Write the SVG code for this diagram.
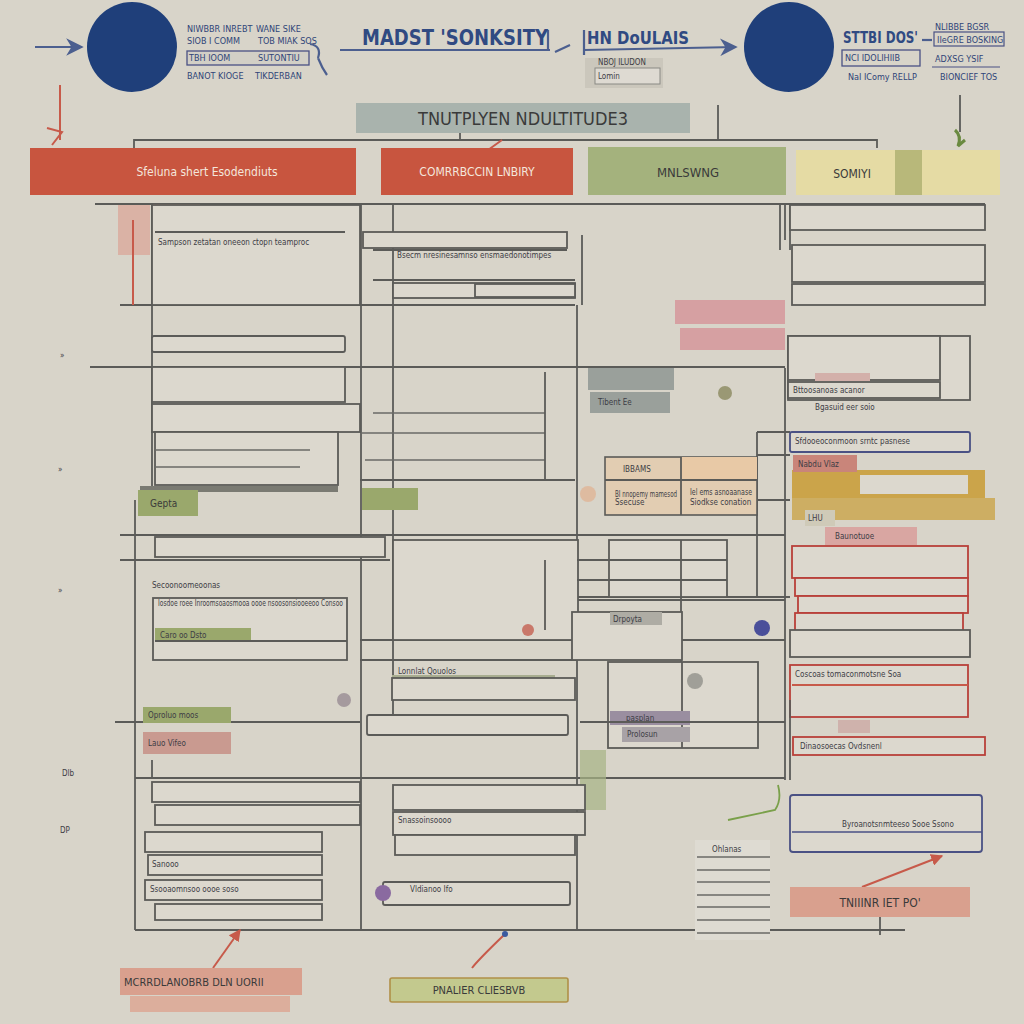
<svg xmlns="http://www.w3.org/2000/svg" width="1024" height="1024" viewBox="0 0 1024 1024">
<defs>
<style>
.bg{fill:#d8d4c9}
.ln{stroke:#5b5b58;stroke-width:1.8;fill:none}
.lnt{stroke:#6a6a66;stroke-width:1.3;fill:none}
.bx{fill:#dcd8ce;stroke:#5b5b58;stroke-width:1.8}
.bxr{fill:#dcd8ce;stroke:#b8413a;stroke-width:1.8}
.bxn{fill:#dcd8ce;stroke:#4a5184;stroke-width:1.8}
.t{font-family:"DejaVu Sans Condensed","Liberation Sans",sans-serif;fill:#3a3a3a}
.ts{font-family:"DejaVu Sans Condensed","Liberation Sans",sans-serif;fill:#3d3d45;font-size:8px}
.tn{font-family:"DejaVu Sans Condensed","Liberation Sans",sans-serif;fill:#2f4478;font-size:9px}
.th{font-family:"DejaVu Sans Condensed","Liberation Sans",sans-serif;fill:#304a82;font-weight:bold}
.tw{font-family:"DejaVu Sans Condensed","Liberation Sans",sans-serif;fill:#f4e6dc;font-size:12px}
.red{stroke:#c75a4a;stroke-width:2;fill:none}
.navyl{stroke:#4c5f8f;stroke-width:2.2;fill:none}
</style>
<marker id="ah" viewBox="0 0 10 10" refX="9" refY="5" markerWidth="8" markerHeight="8" orient="auto"><path d="M0,0 L10,5 L0,10 L3,5 z" fill="#4c5f8f"/></marker>
<marker id="ahr" viewBox="0 0 10 10" refX="9" refY="5" markerWidth="6" markerHeight="6" orient="auto"><path d="M0,0 L10,5 L0,10 z" fill="#c75a4a"/></marker>
</defs>
<rect class="bg" x="0" y="0" width="1024" height="1024"/>

<g id="connectors">
<line class="navyl" x1="35" y1="47" x2="82" y2="47" marker-end="url(#ah)"/>
<path class="navyl" d="M310,44 Q322,46 318,58 M318,58 Q322,68 327,75" stroke-width="1.6"/>
<line class="navyl" x1="340" y1="50" x2="550" y2="50"/>
<line class="navyl" x1="548" y1="30" x2="548" y2="50" stroke-width="1.6"/>
<path class="navyl" d="M555,52 L570,45" stroke="#8a8a8a"/>
<line class="navyl" x1="584" y1="50" x2="736" y2="47" marker-end="url(#ah)"/>
<line class="navyl" x1="584" y1="30" x2="584" y2="55" stroke-width="1.6"/>
<line class="navyl" x1="922" y1="40" x2="932" y2="40" stroke-width="1.5"/>
<line class="red" x1="60" y1="85" x2="60" y2="140"/>
<path class="red" d="M47,128 L62,132 L52,145"/>
<line class="ln" x1="960" y1="95" x2="960" y2="132"/>
<path d="M955,130 Q962,136 958,146 L965,140" stroke="#6a8a40" stroke-width="3" fill="none"/>
<path class="ln" d="M134,148 L134,140 L877,140 L877,148"/>
<line class="ln" x1="718" y1="105" x2="718" y2="140"/>
<line class="ln" x1="460" y1="133" x2="460" y2="140"/>
<line class="red" x1="502" y1="140" x2="488" y2="150"/>
<line class="ln" x1="95" y1="204" x2="985" y2="204"/>
<line class="ln" x1="152" y1="204" x2="152" y2="490"/>
<line class="ln" x1="361" y1="204" x2="361" y2="930"/>
<line class="ln" x1="393" y1="204" x2="393" y2="720"/>
<line class="ln" x1="577" y1="305" x2="577" y2="930"/>
<line class="ln" x1="785" y1="204" x2="785" y2="240"/>
<line class="ln" x1="785" y1="368" x2="785" y2="780"/>
<line class="ln" x1="120" y1="305" x2="360" y2="305"/>
<line class="ln" x1="360" y1="305" x2="575" y2="305"/>
<line class="ln" x1="90" y1="367" x2="785" y2="367"/>
<line class="ln" x1="582" y1="235" x2="582" y2="305"/>
<line class="lnt" x1="373" y1="413" x2="545" y2="413"/>
<line class="lnt" x1="360" y1="433" x2="545" y2="433"/>
<line class="lnt" x1="365" y1="460" x2="545" y2="460"/>
<line class="ln" x1="545" y1="372" x2="545" y2="480"/>
<line class="ln" x1="360" y1="480" x2="575" y2="480"/>
<line class="ln" x1="120" y1="535" x2="785" y2="535"/>
<line class="ln" x1="120" y1="560" x2="390" y2="560"/>
<line class="ln" x1="135" y1="500" x2="135" y2="930"/>
<line class="ln" x1="135" y1="778" x2="785" y2="778"/>
<line class="ln" x1="135" y1="930" x2="905" y2="930"/>
<line class="ln" x1="360" y1="640" x2="785" y2="640"/>
<line class="ln" x1="360" y1="660" x2="577" y2="660"/>
<line class="ln" x1="573" y1="597" x2="790" y2="597"/>
<line class="ln" x1="757" y1="432" x2="757" y2="597"/>
<line class="ln" x1="757" y1="432" x2="790" y2="432"/>
<line class="ln" x1="757" y1="455" x2="790" y2="455"/>
<line class="ln" x1="757" y1="500" x2="790" y2="500"/>
<line class="ln" x1="790" y1="204" x2="790" y2="250"/>
<line class="ln" x1="780" y1="204" x2="780" y2="250"/>
<path d="M728,820 L775,810 Q782,800 778,785" stroke="#7aa04a" stroke-width="1.8" fill="none"/>
<line class="red" x1="213" y1="968" x2="240" y2="930" marker-end="url(#ahr)"/>
<path class="red" d="M472,968 Q478,960 505,934"/>
<circle cx="505" cy="934" r="3" fill="#3a5aa0"/>
<line class="red" x1="862" y1="887" x2="942" y2="856" marker-end="url(#ahr)"/>
<line class="ln" x1="880" y1="917" x2="880" y2="935"/>
</g>

<g id="circle-left"><circle cx="132" cy="47" r="45" fill="#1f3f7a"/></g>
<g id="circle-right"><circle cx="789" cy="47" r="45" fill="#1f3f7a"/></g>

<g id="top-left-legend">
<text class="tn" x="187" y="32">NIWBBR INREBT</text><text class="tn" x="256" y="32">WANE SIKE</text>
<text class="tn" x="187" y="44">SIOB I COMM</text><text class="tn" x="258" y="44">TOB MIAK SOS</text>
<rect x="187" y="51" width="122" height="14" fill="#d2cfc6" stroke="#4a5184" stroke-width="1.3"/>
<text class="tn" x="189" y="61">TBH IOOM</text><text class="tn" x="258" y="61">SUTONTIU</text>
<text class="tn" x="187" y="79">BANOT KIOGE</text><text class="tn" x="255" y="79">TIKDERBAN</text>
</g>

<g id="title-main"><text class="th" x="362" y="45" font-size="21" textLength="186" lengthAdjust="spacingAndGlyphs">MADST 'SONKSITY</text></g>

<g id="top-middle">
<text class="th" x="587" y="44" font-size="18" font-weight="normal" textLength="102" lengthAdjust="spacingAndGlyphs">HN DoULAIS</text>
<rect x="585" y="58" width="78" height="30" fill="#cbc7bc"/>
<text class="ts" x="598" y="65" font-size="7">NBOJ ILUDON</text>
<rect x="595" y="68" width="65" height="16" fill="#dedad2" stroke="#8a8a84" stroke-width="1"/>
<text class="ts" x="598" y="79" font-size="7">Lomin</text>
</g>

<g id="top-right-legend">
<text class="th" x="843" y="43" font-size="16" font-weight="normal" textLength="75" lengthAdjust="spacingAndGlyphs">STTBI DOS'</text>
<text class="tn" x="935" y="30" font-size="8">NLIBBE BGSR</text>
<rect x="934" y="32" width="70" height="14" fill="none" stroke="#4a5184" stroke-width="1.2"/>
<text class="tn" x="937" y="43" font-size="8">IIeGRE BOSKING</text>
<rect x="842" y="50" width="78" height="16" fill="none" stroke="#4a5184" stroke-width="1.3"/>
<text class="tn" x="845" y="61">NCI IDOLIHIIB</text>
<text class="tn" x="935" y="62">ADXSG YSIF</text>
<line x1="932" y1="67" x2="1000" y2="67" stroke="#4a5184" stroke-width="1.2"/>
<text class="tn" x="848" y="80">NaI IComy RELLP</text>
<text class="tn" x="940" y="80">BIONCIEF TOS</text>
</g>

<g id="title-banner">
<rect x="356" y="103" width="334" height="30" fill="#a9b3ad"/>
<text class="t" x="523" y="125" font-size="18" text-anchor="middle" fill="#48504a" textLength="210" lengthAdjust="spacingAndGlyphs">TNUTPLYEN NDULTITUDE3</text>
</g>

<g id="header-1"><rect x="30" y="148" width="326" height="47" fill="#c8553f"/><text class="tw" x="207" y="176" text-anchor="middle">Sfeluna shert Esodendiuts</text></g>
<g id="header-2"><rect x="381" y="148" width="192" height="47" fill="#c8553f"/><text class="tw" x="477" y="176" text-anchor="middle">COMRRBCCIN LNBIRY</text></g>
<g id="header-3"><rect x="588" y="147" width="198" height="48" fill="#a4b27d"/><text class="t" x="688" y="177" font-size="13" text-anchor="middle" fill="#555a40">MNLSWNG</text></g>
<g id="header-4"><rect x="796" y="150" width="204" height="45" fill="#e5dba4"/><rect x="895" y="150" width="27" height="45" fill="#b8b87a"/><text class="t" x="852" y="178" font-size="12" text-anchor="middle" fill="#504a3a">SOMIYI</text></g>

<g id="left-column">
<rect x="118" y="205" width="32" height="50" fill="#dba99c" opacity="0.8"/>
<line class="red" x1="133" y1="220" x2="133" y2="305"/>
<rect x="153" y="204" width="47" height="15" fill="#c9968a"/>
<text class="ts" x="156" y="215" fill="#f2e6de">IIIEINS IOD</text>
<rect class="bx" x="152" y="205" width="208" height="100" fill="none"/>
<line class="ln" x1="155" y1="232" x2="345" y2="232"/>
<text class="ts" x="158" y="245" font-size="7">Sampson zetatan oneeon ctopn teamproc</text>
<rect class="bx" x="152" y="336" width="193" height="16" rx="2"/>
<rect class="bx" x="152" y="367" width="193" height="35" fill="none"/>
<rect class="bx" x="152" y="404" width="208" height="28" fill="none"/>
<rect class="bx" x="155" y="432" width="183" height="53" fill="none"/>
<line class="lnt" x1="155" y1="450" x2="310" y2="450"/>
<line class="lnt" x1="155" y1="467" x2="300" y2="467"/>
<rect x="140" y="486" width="198" height="6" fill="#7a7a72"/>
<rect x="138" y="490" width="60" height="26" fill="#9aa86c"/>
<text class="t" x="150" y="507" font-size="10" fill="#ecebd8">Gepta</text>
<rect x="362" y="488" width="56" height="22" fill="#9aa86c"/>
<rect class="bx" x="155" y="537" width="230" height="20" fill="none"/>
<text class="ts" x="152" y="588">Secoonoomeoonas</text>
<rect class="bx" x="153" y="598" width="194" height="62" fill="none"/>
<text class="ts" x="158" y="606" font-size="6.5" textLength="185" lengthAdjust="spacingAndGlyphs">Iosdoe roee Inroomsoaosmooa oooe nsoosonsiooeeoo Consoo</text>
<rect x="155" y="628" width="96" height="13" fill="#9aa86c"/>
<text class="ts" x="160" y="638" fill="#ecebd8">Caro oo Dsto</text>
<line class="ln" x1="155" y1="641" x2="347" y2="641"/>
<circle cx="344" cy="700" r="7" fill="#a59a9e"/>
<line class="ln" x1="115" y1="722" x2="360" y2="722"/>
<rect x="143" y="707" width="88" height="16" fill="#9aa86c"/>
<text class="ts" x="148" y="718" fill="#ecebd8">Oproluo moos</text>
<rect x="143" y="732" width="88" height="22" fill="#c99a90"/>
<text class="ts" x="148" y="746" fill="#f2e6de">Lauo Vifeo</text>
<line class="ln" x1="152" y1="760" x2="152" y2="778"/>
</g>

<g id="middle-column">
<rect class="bx" x="363" y="232" width="204" height="16" fill="none"/>
<line class="ln" x1="373" y1="250" x2="567" y2="250"/>
<text class="ts" x="397" y="258" font-size="6.5">Bsecm nresinesamnso ensmaedonotimpes</text>
<line class="ln" x1="373" y1="280" x2="575" y2="280"/>
<rect class="bx" x="393" y="283" width="182" height="15" fill="none"/>
<rect class="bx" x="475" y="284" width="100" height="13" fill="none"/>
<rect class="bx" x="393" y="540" width="185" height="100" fill="none"/>
<line class="ln" x1="545" y1="560" x2="545" y2="630"/>
<circle cx="528" cy="630" r="6" fill="#c9786a"/>
<text class="ts" x="398" y="674">Lonnlat Qouolos</text>
<rect x="392" y="675" width="163" height="5" fill="#a8ad90"/>
<rect class="bx" x="392" y="678" width="183" height="22" fill="none"/>
<rect class="bx" x="367" y="715" width="201" height="20" rx="2"/>
</g>

<g id="center-right-column">
<rect x="675" y="300" width="110" height="24" fill="#d6a0a2"/>
<rect x="680" y="328" width="105" height="22" fill="#d6a0a2"/>
<rect x="588" y="368" width="86" height="22" fill="#9aa09b"/>
<rect x="590" y="392" width="80" height="21" fill="#9aa09b"/>
<text class="ts" x="598" y="405" fill="#eceee8">Tibent Ee</text>
<circle cx="725" cy="393" r="7" fill="#9a9874"/>
<rect x="605" y="457" width="152" height="58" fill="#e2cdb2" stroke="#5b5b58" stroke-width="1.6"/>
<rect x="681" y="457" width="76" height="23" fill="#e8c9a6"/>
<line class="ln" x1="605" y1="480" x2="757" y2="480"/>
<line class="ln" x1="681" y1="457" x2="681" y2="515"/>
<text class="ts" x="623" y="472" fill="#b5604a">IBBAMS</text>
<text class="ts" x="615" y="497" font-size="6.5" fill="#b5604a" textLength="62" lengthAdjust="spacingAndGlyphs">BI nnopemy mamesod</text>
<text class="ts" x="615" y="505" font-size="6.5" fill="#b5604a">Ssecuse</text>
<text class="ts" x="690" y="495" font-size="6.5" textLength="62" lengthAdjust="spacingAndGlyphs">Iel ems asnoaanase</text>
<text class="ts" x="690" y="505" font-size="6.5">Siodkse conation</text>
<circle cx="588" cy="494" r="8" fill="#e0b496" opacity="0.8"/>
<rect class="bx" x="609" y="540" width="118" height="57" fill="none"/>
<line class="ln" x1="577" y1="560" x2="727" y2="560"/>
<line class="ln" x1="577" y1="580" x2="727" y2="580"/>
<line class="ln" x1="681" y1="540" x2="681" y2="680"/>
<rect class="bx" x="572" y="612" width="110" height="48" fill="none"/>
<rect x="610" y="612" width="52" height="13" fill="#aeaca4"/>
<text class="ts" x="613" y="622" font-size="7">Drpoyta</text>
<circle cx="762" cy="628" r="8" fill="#4a4f9a"/>
<line class="ln" x1="578" y1="600" x2="785" y2="600"/>
<rect class="bx" x="608" y="662" width="150" height="86" fill="none"/>
<line class="ln" x1="682" y1="662" x2="682" y2="748"/>
<circle cx="695" cy="681" r="8" fill="#a09f98"/>
<rect x="610" y="711" width="80" height="14" fill="#9a8ea0"/>
<text class="ts" x="626" y="721" fill="#ece6ef">pasplan</text>
<rect x="622" y="727" width="68" height="15" fill="#a8a2a6"/>
<text class="ts" x="627" y="737" fill="#3a3a60">Prolosun</text>
<line class="ln" x1="580" y1="722" x2="785" y2="722"/>
<rect x="580" y="750" width="26" height="60" fill="#a7b384" opacity="0.7"/>
</g>

<g id="right-column">
<rect class="bx" x="790" y="205" width="195" height="25" fill="none"/>
<rect class="bx" x="792" y="245" width="193" height="37" fill="none"/>
<rect class="bx" x="792" y="284" width="193" height="21" fill="none"/>
<rect class="bx" x="788" y="336" width="182" height="64" fill="none"/>
<rect class="bx" x="788" y="336" width="152" height="44" fill="none"/>
<rect class="bx" x="788" y="382" width="152" height="16" fill="none"/>
<rect x="815" y="373" width="55" height="8" fill="#d3b0aa"/>
<text class="ts" x="793" y="393" font-size="7">Bttoosanoas acanor</text>
<text class="ts" x="815" y="410" font-size="7">Bgasuid eer soio</text>
<rect class="bxn" x="790" y="432" width="180" height="20" rx="2"/>
<text class="ts" x="795" y="444" font-size="7">Sfdooeoconmoon srntc pasnese</text>
<rect x="792" y="470" width="193" height="28" fill="#cba44a"/>
<rect x="860" y="475" width="108" height="19" fill="#dcd8ce"/>
<rect x="792" y="498" width="203" height="22" fill="#cba44a" opacity="0.8"/>
<rect x="793" y="455" width="64" height="17" fill="#c9857a"/>
<text class="ts" x="798" y="467" fill="#f4e6dc">Nabdu Vlaz</text>
<rect x="805" y="510" width="30" height="16" fill="#cfcab8"/>
<text class="ts" x="808" y="521">LHU</text>
<rect x="825" y="527" width="92" height="18" fill="#d9a6a2"/>
<text class="ts" x="835" y="539">Baunotuoe</text>
<rect class="bxr" x="792" y="546" width="176" height="32" fill="none"/>
<rect class="bxr" x="795" y="578" width="173" height="18" fill="none"/>
<rect class="bxr" x="798" y="596" width="170" height="17" fill="none"/>
<rect class="bxr" x="795" y="613" width="168" height="18" fill="none"/>
<rect class="bx" x="790" y="630" width="180" height="27" fill="none"/>
<rect class="bxr" x="790" y="665" width="178" height="52" fill="none"/>
<text class="ts" x="795" y="677" font-size="6.5" fill="#9a4040">Coscoas tomaconmotsne Soa</text>
<line class="red" x1="792" y1="685" x2="968" y2="685"/>
<rect x="838" y="720" width="32" height="13" fill="#cfb2ac"/>
<rect class="bxr" x="793" y="737" width="192" height="18" fill="none"/>
<text class="ts" x="800" y="749" fill="#9a4040">Dinaosoecas Ovdsnenl</text>
<line class="ln" x1="790" y1="700" x2="790" y2="780"/>
</g>

<g id="right-bottom">
<rect class="bxn" x="790" y="795" width="192" height="57" rx="3"/>
<text class="ts" x="842" y="827" font-size="7">Byroanotsnmteeso Sooe Ssono</text>
<line x1="792" y1="832" x2="982" y2="832" stroke="#4a5184" stroke-width="1.6"/>
</g>

<g id="note-tag"><rect x="790" y="887" width="180" height="30" fill="#d9a08e"/><text class="t" x="880" y="907" font-size="12" text-anchor="middle" fill="#4a3a38">TNIIINR IET PO'</text></g>

<g id="paper">
<rect x="695" y="840" width="75" height="100" fill="#dedbd2"/>
<text class="ts" x="712" y="852" font-size="7">Ohlanas</text>
<line class="lnt" x1="697" y1="857" x2="770" y2="857"/>
<line class="lnt" x1="697" y1="870" x2="770" y2="870"/>
<line class="lnt" x1="697" y1="882" x2="770" y2="882"/>
<line class="lnt" x1="697" y1="895" x2="770" y2="895"/>
<line class="lnt" x1="697" y1="907" x2="770" y2="907"/>
<line class="lnt" x1="697" y1="920" x2="770" y2="920"/>
<line class="lnt" x1="697" y1="933" x2="770" y2="933"/>
</g>

<g id="bottom-left-boxes">
<rect class="bx" x="152" y="782" width="208" height="20" fill="none"/>
<rect class="bx" x="155" y="805" width="205" height="20" fill="none"/>
<rect class="bx" x="145" y="832" width="177" height="20" fill="none"/>
<rect class="bx" x="148" y="855" width="174" height="20" fill="none"/>
<text class="ts" x="152" y="867">Sanooo</text>
<rect class="bx" x="145" y="880" width="177" height="20" fill="none"/>
<text class="ts" x="150" y="892" font-size="6.5">Ssooaomnsoo oooe soso</text>
<rect class="bx" x="155" y="904" width="167" height="16" fill="none"/>
</g>

<g id="bottom-middle-boxes">
<rect class="bx" x="393" y="785" width="192" height="25" fill="none"/>
<rect class="bx" x="393" y="812" width="192" height="23" fill="none"/>
<text class="ts" x="398" y="823">Snassoinsoooo</text>
<rect class="bx" x="395" y="835" width="180" height="20" fill="none"/>
<rect class="bx" x="383" y="882" width="187" height="23" rx="2"/>
<circle cx="383" cy="893" r="8" fill="#8a6aa0"/>
<text class="ts" x="410" y="892">Vldianoo Ifo</text>
</g>

<g id="bottom-label-1">
<rect x="120" y="968" width="182" height="27" fill="#d9a08e"/>
<rect x="130" y="996" width="160" height="16" fill="#dcae9c"/>
<text class="t" x="124" y="986" font-size="11" fill="#5a4038">MCRRDLANOBRB DLN UORII</text>
</g>
<g id="bottom-label-2">
<rect x="390" y="978" width="178" height="24" fill="#c3c98e" stroke="#b09048" stroke-width="1.6" rx="2"/>
<text class="t" x="479" y="994" font-size="11" text-anchor="middle" fill="#5a5a40">PNALIER CLIESBVB</text>
</g>

<g id="margin-marks">
<text class="ts" x="60" y="358" fill="#555">»</text>
<text class="ts" x="58" y="472" fill="#555">»</text>
<text class="ts" x="58" y="593" fill="#555">»</text>
<text class="ts" x="62" y="776" fill="#555">Dlb</text>
<text class="ts" x="60" y="833" fill="#555">DP</text>
</g>
</svg>
